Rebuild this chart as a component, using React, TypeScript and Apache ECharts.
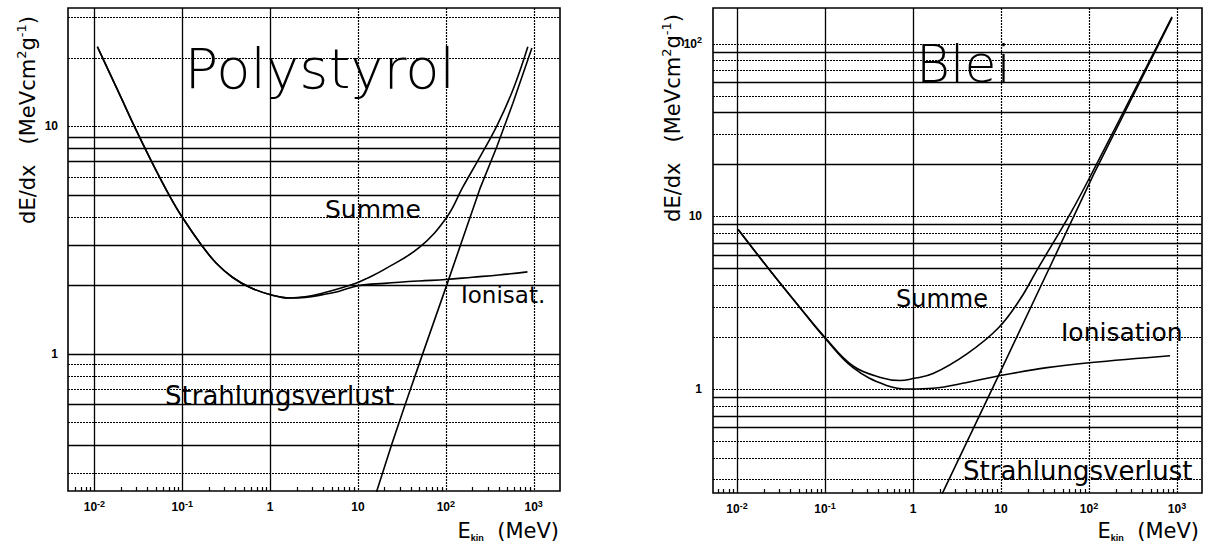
import React, { useEffect, useRef } from 'react';
import * as echarts from 'echarts';

// Electron stopping power dE/dx (MeV cm^2 g^-1) vs. kinetic energy (MeV)

// Polystyrol
const polyIonE = [0.0108, 0.015, 0.02, 0.0284, 0.0455, 0.0711, 0.1, 0.169, 0.244, 0.372, 0.6, 1.06, 1.66, 2.5, 4, 6, 10, 20, 50, 100, 200, 400, 850];
const polyIonV = [22.3, 17.0, 13.4, 10.0, 6.9, 4.97, 3.98, 2.97, 2.5, 2.17, 1.95, 1.81, 1.76, 1.77, 1.82, 1.88, 1.99, 2.04, 2.09, 2.12, 2.17, 2.22, 2.29];
const polySumE = [0.0108, 0.015, 0.02, 0.0284, 0.0455, 0.0711, 0.1, 0.169, 0.244, 0.372, 0.6, 1.06, 1.66, 2.5, 4, 6, 10, 12.5, 20, 50.4, 102.6, 156, 244, 380, 580, 859];
const polySumV = [22.3, 17.0, 13.4, 10.0, 6.9, 4.97, 3.98, 2.97, 2.5, 2.17, 1.95, 1.81, 1.76, 1.78, 1.85, 1.93, 2.06, 2.14, 2.35, 2.94, 3.98, 5.39, 7.31, 10.0, 14.4, 22.3];
const polyRadE = [16, 24.2, 34, 54.5, 105, 244, 380, 580, 955];
const polyRadV = [0.243, 0.4, 0.59, 1.0, 2.06, 5.3, 8.1, 12.6, 22.0];

// Blei
const bleiIonE = [0.0103, 0.0237, 0.052, 0.1, 0.208, 0.5, 0.925, 1.69, 4.1, 9.25, 33.3, 100, 834];
const bleiIonV = [8.4, 4.86, 2.96, 1.97, 1.33, 1.05, 1.0, 1.01, 1.09, 1.19, 1.33, 1.42, 1.56];
const bleiSumE = [0.0103, 0.0237, 0.052, 0.1, 0.208, 0.45, 0.71, 1.0, 1.69, 4.1, 9.25, 16.4, 25.7, 60.8, 111, 877];
const bleiSumV = [8.4, 4.86, 2.96, 1.99, 1.36, 1.16, 1.12, 1.15, 1.23, 1.6, 2.25, 3.3, 4.9, 10.3, 18.3, 143];
const bleiRadE = [2.14, 9.25, 33.3, 111, 877];
const bleiRadV = [0.247, 1.18, 4.7, 17.2, 141];

// Graph-paper rulings
const polyRows = [0.3, 0.4, 0.5, 0.6, 0.7, 0.8, 0.9, 1, 2, 3, 4, 5, 6, 7, 8, 9, 10, 20, 30];
const bleiRows = [0.3, 0.4, 0.5, 0.6, 0.7, 0.8, 0.9, 1, 2, 3, 4, 5, 6, 7, 8, 9, 10, 20, 30, 40, 50, 60, 70, 80, 90, 100];
const decadeCols = [0.01, 0.1, 1, 10, 100, 1000];

const polySolidRows = [0.4, 0.6, 1, 2, 3, 5, 7, 8, 9];
const bleiSolidRows = [0.6, 0.7, 0.9, 5, 6, 7, 9, 20, 40, 60, 90];
const solidCols = [0.01, 0.1, 1];

const FONT = "'DejaVu Sans', 'Noto Sans', sans-serif";
const TICK_FONT = "'Liberation Sans', Arial, sans-serif";

const pairs = (xs: number[], ys: number[]) => xs.map((x, i) => [x, ys[i]]);

const minorTicks = (lo: number, hi: number) => {
  const out: number[] = [];
  for (let d = -3; d <= 3; d++) {
    for (let m = 2; m <= 9; m++) {
      const v = m * Math.pow(10, d);
      if (v > lo && v < hi) out.push(v);
    }
  }
  return out;
};

const tickRich = {
  sup: { fontSize: 9, fontWeight: 'bold', fontFamily: TICK_FONT, color: '#000', verticalAlign: 'top', lineHeight: 8 },
};

const powLabel = (v: number) => {
  const p = Math.log10(v);
  const r = Math.round(p);
  if (Math.abs(p - r) > 1e-6) return '';
  if (r === 0) return '1';
  if (r === 1) return '10';
  return '10{sup|' + r + '}';
};

const axisLabelX = {
  formatter: powLabel,
  margin: 8,
  fontSize: 12,
  fontWeight: 'bold',
  fontFamily: TICK_FONT,
  color: '#000',
  lineHeight: 16,
  rich: tickRich,
};

const axisLabelY = { ...axisLabelX, margin: 10 };

const DOT = [2, 1];

function rowSeries(idx: number, values: number[], solid: number[]) {
  return {
    type: 'custom',
    xAxisIndex: idx,
    yAxisIndex: idx,
    silent: true,
    z: 1,
    data: values.map((v) => [1, v]),
    renderItem: (params: any, api: any) => {
      const cs = params.coordSys;
      const v = api.value(1);
      const y = Math.round(api.coord([1, v])[1]) + 0.5;
      const isSolid = solid.indexOf(v) >= 0;
      return {
        type: 'line',
        shape: { x1: cs.x, y1: y, x2: cs.x + cs.width, y2: y },
        style: { stroke: '#000', lineWidth: isSolid ? 1.3 : 1.2, lineDash: isSolid ? null : DOT },
      };
    },
  };
}

function colSeries(idx: number, values: number[], solid: number[]) {
  return {
    type: 'custom',
    xAxisIndex: idx,
    yAxisIndex: idx,
    silent: true,
    z: 1,
    data: values.map((v) => [v, 1]),
    renderItem: (params: any, api: any) => {
      const cs = params.coordSys;
      const v = api.value(0);
      const x = Math.round(api.coord([v, 1])[0]) + 0.5;
      const isSolid = solid.indexOf(v) >= 0;
      return {
        type: 'line',
        shape: { x1: x, y1: cs.y, x2: x, y2: cs.y + cs.height },
        style: { stroke: '#000', lineWidth: isSolid ? 1.3 : 1.2, lineDash: isSolid ? null : DOT },
      };
    },
  };
}

function tickSeries(idx: number, values: number[]) {
  return {
    type: 'custom',
    xAxisIndex: idx,
    yAxisIndex: idx,
    silent: true,
    z: 2,
    data: values.map((v) => [v, 1]),
    renderItem: (params: any, api: any) => {
      const cs = params.coordSys;
      const x = Math.round(api.coord([api.value(0), 1])[0]) + 0.5;
      const yb = cs.y + cs.height;
      return {
        type: 'line',
        shape: { x1: x, y1: yb, x2: x, y2: yb - 4 },
        style: { stroke: '#000', lineWidth: 1.2 },
      };
    },
  };
}

function curve(idx: number, name: string, data: number[][], smooth: number) {
  return {
    type: 'line',
    name,
    xAxisIndex: idx,
    yAxisIndex: idx,
    data,
    showSymbol: false,
    symbol: 'none',
    smooth,
    z: 5,
    lineStyle: { color: '#000', width: 1.6 },
  };
}

function label(text: string, x: number, y: number, size: number, extra: any = {}) {
  return {
    type: 'text',
    x,
    y,
    z: 20,
    silent: true,
    rotation: extra.rotation || 0,
    style: {
      text,
      fontSize: size,
      fontFamily: FONT,
      fontWeight: extra.weight || 'normal',
      fill: '#000',
      align: extra.align || 'left',
      verticalAlign: 'middle',
      lineHeight: extra.lineHeight,
      rich: extra.rich,
    },
  };
}

const supRich = {
  sup: { fontSize: 13, fontFamily: FONT, fill: '#000', verticalAlign: 'top', lineHeight: 13 },
};
const subRich = {
  sub: { fontSize: 9, fontFamily: TICK_FONT, fontWeight: 'bold', fill: '#000', verticalAlign: 'bottom', lineHeight: 14 },
};

const yName = 'dE/dx   (MeVcm{sup|2}g{sup|-1})';
const xName = 'E{sub|kin}  (MeV)';

const option = {
  animation: false,
  backgroundColor: '#fff',
  grid: [
    { left: 68, top: 8, width: 492, height: 483, show: true, borderColor: '#000', borderWidth: 1.6, backgroundColor: 'transparent' },
    { left: 713, top: 8, width: 489, height: 485, show: true, borderColor: '#000', borderWidth: 1.6, backgroundColor: 'transparent' },
  ],
  xAxis: [
    {
      type: 'log', logBase: 10, gridIndex: 0, min: 0.005, max: 1995,
      axisLine: { show: false }, axisTick: { show: false }, splitLine: { show: false },
      axisLabel: axisLabelX,
    },
    {
      type: 'log', logBase: 10, gridIndex: 1, min: 0.00533, max: 1923,
      axisLine: { show: false }, axisTick: { show: false }, splitLine: { show: false },
      axisLabel: axisLabelX,
    },
  ],
  yAxis: [
    {
      type: 'log', logBase: 10, gridIndex: 0, min: 0.25, max: 33,
      axisLine: { show: false }, axisTick: { show: false }, splitLine: { show: false },
      axisLabel: axisLabelY,
    },
    {
      type: 'log', logBase: 10, gridIndex: 1, min: 0.25, max: 161,
      axisLine: { show: false }, axisTick: { show: false }, splitLine: { show: false },
      axisLabel: { ...axisLabelY, margin: 11 },
    },
  ],
  series: [
    rowSeries(0, polyRows, polySolidRows),
    colSeries(0, decadeCols, solidCols),
    tickSeries(0, minorTicks(0.005, 1995)),
    rowSeries(1, bleiRows, bleiSolidRows),
    colSeries(1, decadeCols, solidCols),
    tickSeries(1, minorTicks(0.00533, 1923)),
    curve(0, 'Summe', pairs(polySumE, polySumV), 0.4),
    curve(0, 'Ionisation', pairs(polyIonE, polyIonV), 0.4),
    curve(0, 'Strahlungsverlust', pairs(polyRadE, polyRadV), 0),
    curve(1, 'Summe', pairs(bleiSumE, bleiSumV), 0.4),
    curve(1, 'Ionisation', pairs(bleiIonE, bleiIonV), 0.4),
    curve(1, 'Strahlungsverlust', pairs(bleiRadE, bleiRadV), 0),
  ],
  graphic: [
    label('Polystyrol', 184.5, 68.6, 56, { weight: 200 }),
    label('Summe', 325, 209.4, 25),
    label('Ionisat.', 461, 295, 23),
    label('Strahlungsverlust', 165, 396, 26),
    label('Blei', 916, 64, 52, { weight: 200 }),
    label('Summe', 896, 298.7, 24),
    label('Ionisation', 1061, 332.4, 25),
    label('Strahlungsverlust', 963, 471, 26),
    label(yName, 28, 120, 21, { rotation: Math.PI / 2, align: 'center', lineHeight: 26, rich: supRich }),
    label(yName, 673, 118, 21, { rotation: Math.PI / 2, align: 'center', lineHeight: 26, rich: supRich }),
    label(xName, 559, 530.7, 21, { align: 'right', lineHeight: 24, rich: subRich }),
    label(xName, 1199, 530.7, 21, { align: 'right', lineHeight: 24, rich: subRich }),
  ],
};

export default function App() {
  const ref = useRef<HTMLDivElement>(null);
  useEffect(() => {
    const chart = echarts.init(ref.current as HTMLDivElement, null, { renderer: 'svg' });
    chart.setOption(option as any);
    return () => chart.dispose();
  }, []);
  return (
    <div
      ref={ref}
      style={{ position: 'fixed', left: 0, top: 0, width: 1207, height: 546, background: '#fff' }}
    />
  );
}
